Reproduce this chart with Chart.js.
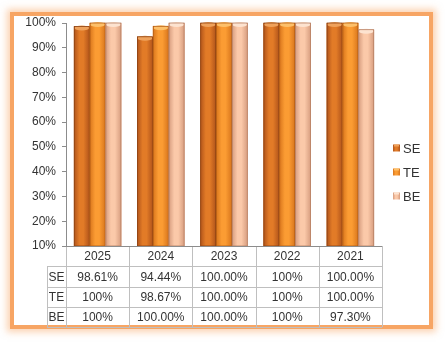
<!DOCTYPE html>
<html>
<head>
<meta charset="utf-8">
<script src="https://cdn.jsdelivr.net/npm/chart.js@4"></script>
<style>
    html, body { margin: 0; padding: 0; background: #fff; }
    body { width: 445px; height: 343px; position: relative; overflow: hidden; }
    #frame {
        position: absolute; left: 10px; top: 12px; width: 415px; height: 309px;
        border: 4px solid #F7A564; background: #fff;
        box-shadow: 0 0 7px 3px rgba(247, 165, 100, 0.5);
    }
    #chartBox { position: absolute; left: 0; top: 0; width: 445px; height: 343px; }
</style>
</head>
<body>
<div id="frame"></div>
<div id="chartBox"><canvas id="rateChart" width="445" height="343"></canvas></div>
<script>
const years = ['2025', '2024', '2023', '2022', '2021'];
const seriesNames = ['SE', 'TE', 'BE'];
const seValues = [98.61, 94.44, 100, 100, 100];
const teValues = [100, 98.67, 100, 100, 100];
const beValues = [100, 100, 100, 100, 97.30];
const seLabels = ['98.61%', '94.44%', '100.00%', '100%', '100.00%'];
const teLabels = ['100%', '98.67%', '100.00%', '100%', '100.00%'];
const beLabels = ['100%', '100.00%', '100.00%', '100%', '97.30%'];
const yTicks = [10, 20, 30, 40, 50, 60, 70, 80, 90, 100];

// shading for each series: edge, middle, cap
const shades = [
    { edge: '#B0531A', mid: '#E27B27', cap: '#EFA25C', line: '#8E4313' },
    { edge: '#D8751C', mid: '#FB9C33', cap: '#FDC06A', line: '#B55E14' },
    { edge: '#D69C7E', mid: '#FBC9A9', cap: '#FDE3D0', line: '#B78064' }
];

const FONT = '"Liberation Sans", Arial, sans-serif';
const TEXT = '#333333';
const GRID = '#BFBFBF';

function barGradient(ctx, left, right, s) {
    const g = ctx.createLinearGradient(left, 0, right, 0);
    g.addColorStop(0, s.edge);
    g.addColorStop(0.35, s.mid);
    g.addColorStop(0.6, s.mid);
    g.addColorStop(1, s.edge);
    return g;
}

// repaint the bars with a cylinder-like look, using the library's bar elements
const cylinderBars = {
    id: 'cylinderBars',
    afterDatasetsDraw(chart) {
        const ctx = chart.ctx;
        const area = chart.chartArea;
        chart.data.datasets.forEach((ds, di) => {
            const s = shades[di];
            chart.getDatasetMeta(di).data.forEach(bar => {
                const left = bar.x - bar.width / 2;
                const right = bar.x + bar.width / 2;
                const top = bar.y;
                const bottom = Math.min(bar.base, area.bottom);
                ctx.save();
                ctx.fillStyle = barGradient(ctx, left, right, s);
                ctx.fillRect(left, top, right - left, bottom - top);
                // top cap
                ctx.fillStyle = s.cap;
                ctx.beginPath();
                ctx.ellipse(bar.x, top + 1.5, (right - left) / 2 - 0.5, 2.5, 0, 0, Math.PI * 2);
                ctx.fill();
                ctx.strokeStyle = s.line;
                ctx.lineWidth = 0.8;
                ctx.strokeRect(left + 0.4, top, right - left - 0.8, bottom - top);
                ctx.restore();
            });
        });
    }
};

// data table under the plot, aligned to the x scale
const dataTable = {
    id: 'dataTable',
    afterDraw(chart) {
        const ctx = chart.ctx;
        const area = chart.chartArea;
        const xs = chart.scales.x;
        const colW = (area.right - area.left) / years.length;
        const rowH = 20.3;
        const top = area.bottom;
        const labelLeft = 47;
        const rows = [seLabels, teLabels, beLabels];
        const bottom = top + rowH * (rows.length + 1);

        ctx.save();
        ctx.strokeStyle = GRID;
        ctx.lineWidth = 1;
        ctx.beginPath();
        for (let r = 1; r <= rows.length + 1; r++) {
            const y = Math.round(top + rowH * r) + 0.5;
            ctx.moveTo(labelLeft, y);
            ctx.lineTo(area.right, y);
        }
        for (let c = 0; c <= years.length; c++) {
            const x = Math.round(area.left + colW * c) + 0.5;
            ctx.moveTo(x, top);
            ctx.lineTo(x, bottom);
        }
        ctx.moveTo(labelLeft + 0.5, top + rowH);
        ctx.lineTo(labelLeft + 0.5, bottom);
        ctx.stroke();
        ctx.strokeStyle = '#8C8C8C';
        ctx.beginPath();
        ctx.moveTo(area.left, Math.round(top) + 0.5);
        ctx.lineTo(area.right, Math.round(top) + 0.5);
        ctx.stroke();

        ctx.fillStyle = TEXT;
        ctx.font = '12px ' + FONT;
        ctx.textAlign = 'center';
        ctx.textBaseline = 'middle';
        years.forEach((yr, i) => {
            ctx.fillText(yr, xs.getPixelForValue(i), top + rowH / 2 + 1);
        });
        rows.forEach((row, r) => {
            const y = top + rowH * (r + 1) + rowH / 2 + 1;
            ctx.fillText(seriesNames[r], (labelLeft + area.left) / 2, y);
            row.forEach((txt, i) => {
                ctx.fillText(txt, xs.getPixelForValue(i), y);
            });
        });
        ctx.restore();
    }
};

// legend on the right
const sideLegend = {
    id: 'sideLegend',
    afterDraw(chart) {
        const ctx = chart.ctx;
        const x0 = 393;
        const y0 = 148;
        const gap = 24;
        ctx.save();
        ctx.font = '13px ' + FONT;
        ctx.textBaseline = 'middle';
        ctx.textAlign = 'left';
        chart.data.datasets.forEach((ds, i) => {
            const s = shades[i];
            const y = y0 + gap * i;
            ctx.fillStyle = barGradient(ctx, x0, x0 + 7, s);
            ctx.fillRect(x0, y - 3.5, 7, 7);
            ctx.fillStyle = s.cap;
            ctx.fillRect(x0 + 1, y - 3.5, 5, 2);
            ctx.fillStyle = TEXT;
            ctx.fillText(ds.label, x0 + 10, y + 1);
        });
        ctx.restore();
    }
};

const valueSets = [seValues, teValues, beValues];

new Chart(document.getElementById('rateChart'), {
    type: 'bar',
    data: {
        labels: years,
        datasets: seriesNames.map((name, i) => ({
            label: name,
            data: valueSets[i],
            backgroundColor: shades[i].mid,
            borderWidth: 0,
            categoryPercentage: 0.75,
            barPercentage: 1.0
        }))
    },
    options: {
        responsive: false,
        animation: false,
        devicePixelRatio: 1,
        layout: { padding: { left: 0, top: 23, right: 63, bottom: 97 } },
        plugins: {
            legend: { display: false },
            tooltip: { enabled: false }
        },
        scales: {
            x: {
                ticks: { display: false },
                grid: { display: false },
                border: { display: false },
                afterFit: scale => { scale.height = 0; }
            },
            y: {
                min: 10,
                max: 100,
                afterBuildTicks: scale => { scale.ticks = yTicks.map(v => ({ value: v })); },
                afterFit: scale => { scale.width = 66; },
                border: { display: true, color: '#8C8C8C', width: 1 },
                grid: { drawOnChartArea: false, drawTicks: true, tickLength: 4, color: '#8C8C8C' },
                ticks: {
                    padding: 6,
                    color: TEXT,
                    font: { family: FONT, size: 12 },
                    callback: v => v + '%'
                }
            }
        }
    },
    plugins: [cylinderBars, dataTable, sideLegend]
});
</script>
</body>
</html>
